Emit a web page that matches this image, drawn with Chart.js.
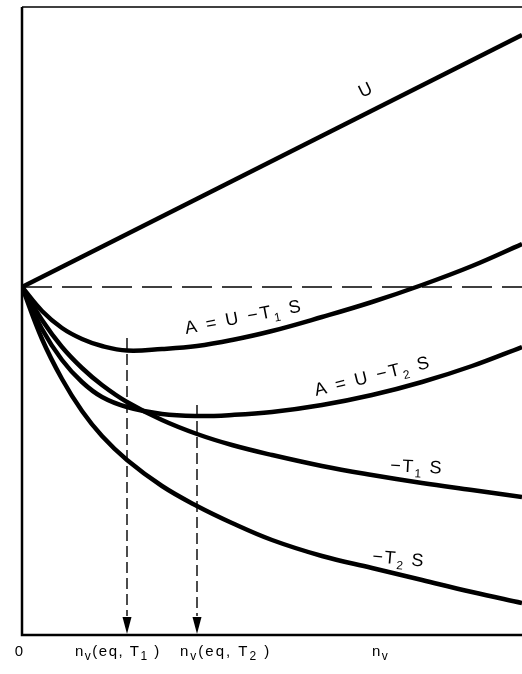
<!DOCTYPE html>
<html>
<head>
<meta charset="utf-8">
<script src="https://cdn.jsdelivr.net/npm/chart.js@4/dist/chart.umd.min.js"></script>
<style>
  html,body{margin:0;padding:0;background:#fff;}
  canvas{display:block;}
</style>
</head>
<body>
<canvas id="chart" width="522" height="674"></canvas>
<script>
// vacancy count n_v (arbitrary units) and energy terms
const xs       = [0, 0.4, 0.8, 1.2, 1.6, 2.1, 2.8, 3.5, 4.2, 5, 6, 7, 8, 9, 10];
const minusT1S = [0, -3.3, -6.0, -8.1, -9.8, -11.5, -13.3, -14.7, -15.8, -16.8, -17.9, -18.8, -19.6, -20.3, -21.0];
const minusT2S = [0, -5.2, -9.2, -12.4, -14.9, -17.3, -19.9, -21.9, -23.6, -25.3, -26.9, -28.1, -29.3, -30.5, -31.6];
const freeT1   = [0, -2.4, -4.1, -5.2, -5.9, -6.35, -6.2, -5.9, -5.3, -4.4, -3.0, -1.5, 0.2, 2.1, 4.3];
const freeT2   = [0, -4.2, -7.3, -9.5, -11.0, -12.0, -12.7, -12.9, -12.8, -12.5, -11.8, -10.8, -9.5, -7.9, -6.0];
const uX = [0, 10];
const uY = [0, 25.2];
// equilibrium points (minima of A) and where their drop lines start
const eqX   = [2.1, 3.5];
const eqTop = [-5.1, -11.8];
const yMin = -34.8, yMax = 28;

const pts = (xa, ya) => xa.map((v, i) => ({x: v, y: ya[i]}));

const curve = (d) => ({data: d, borderColor: '#000', borderWidth: 4.5, pointRadius: 0,
  tension: 0.4, fill: false});

const dashedDrops = eqX.map((v, i) => ({
  data: [{x: v, y: eqTop[i]}, {x: v, y: yMin + 1.9}],
  borderColor: '#000', borderWidth: 1.4, borderDash: [11, 5], pointRadius: 0
}));

// text with subscripts: parts = [[text, isSub], ...]
function rich(ctx, px, py, deg, parts, size, subSize, spacing){
  ctx.save();
  ctx.translate(px, py);
  ctx.rotate(deg * Math.PI / 180);
  let cx = 0;
  parts.forEach(([t, sub]) => {
    ctx.font = (sub ? subSize : size) + 'px "Liberation Sans", Arial, sans-serif';
    ctx.letterSpacing = spacing + 'px';
    ctx.fillText(t, cx, sub ? Math.round(size * 0.25) : 0);
    cx += ctx.measureText(t).width;
  });
  ctx.restore();
}

const annot = {
  id: 'annot',
  afterDatasetsDraw(chart){
    const {ctx, chartArea: a, scales: {x, y}} = chart;
    ctx.save();
    ctx.strokeStyle = '#000';
    ctx.fillStyle = '#000';
    // frame: thin top edge, heavier axes
    ctx.lineWidth = 1.5;
    ctx.beginPath(); ctx.moveTo(a.left, a.top); ctx.lineTo(a.right, a.top); ctx.stroke();
    ctx.lineWidth = 2.5;
    ctx.beginPath(); ctx.moveTo(a.left, a.top); ctx.lineTo(a.left, a.bottom); ctx.lineTo(a.right, a.bottom); ctx.stroke();
    // arrowheads on the drop lines
    eqX.forEach(v => {
      const px = x.getPixelForValue(v), tip = y.getPixelForValue(yMin);
      ctx.beginPath();
      ctx.moveTo(px - 4.5, tip - 18); ctx.lineTo(px + 4.5, tip - 18); ctx.lineTo(px, tip - 1);
      ctx.closePath(); ctx.fill();
    });
    // curve labels
    const P = (vx, vy) => [x.getPixelForValue(vx), y.getPixelForValue(vy)];
    let [lx, ly] = P(6.8, 18.9);
    rich(ctx, lx, ly, -26, [['U', 0]], 18, 12, 0);
    [lx, ly] = P(3.28, -4.7);
    rich(ctx, lx, ly, -11, [['A = U \u2212T', 0], ['1', 1], [' S', 0]], 18, 12, 2.2);
    [lx, ly] = P(5.88, -10.9);
    rich(ctx, lx, ly, -14, [['A = U \u2212T', 0], ['2', 1], [' S', 0]], 18, 12, 2.2);
    [lx, ly] = P(7.36, -18.4);
    rich(ctx, lx, ly, 3, [['\u2212T', 0], ['1', 1], [' S', 0]], 18, 12, 1.5);
    [lx, ly] = P(7.0, -27.5);
    rich(ctx, lx, ly, 5, [['\u2212T', 0], ['2', 1], [' S', 0]], 18, 12, 1.5);
    // axis labels under the n_v axis
    const base = a.bottom + 21;
    ctx.font = '15px "Liberation Sans", Arial, sans-serif';
    ctx.textAlign = 'center';
    ctx.fillText('0', x.getPixelForValue(0) - 3, base);
    ctx.textAlign = 'left';
    rich(ctx, x.getPixelForValue(1.06), base, 0, [['n', 0], ['v', 1], ['(eq, T', 0], ['1', 1], [' )', 0]], 15, 12, 1.5);
    rich(ctx, x.getPixelForValue(3.16), base, 0, [['n', 0], ['v', 1], ['(eq, T', 0], ['2', 1], [' )', 0]], 15, 12, 2);
    rich(ctx, x.getPixelForValue(7.0), base, 0, [['n', 0], ['v', 1]], 15, 12, 1.5);
    ctx.restore();
  }
};

new Chart(document.getElementById('chart'), {
  type: 'line',
  data: {
    datasets: [
      {data: [{x: 0, y: 0}, {x: 10, y: 0}], borderColor: '#000', borderWidth: 1.6,
       borderDash: [30, 10], pointRadius: 0},
      ...dashedDrops,
      curve(pts(uX, uY)),
      curve(pts(xs, freeT1)),
      curve(pts(xs, freeT2)),
      curve(pts(xs, minusT1S)),
      curve(pts(xs, minusT2S))
    ]
  },
  options: {
    responsive: false,
    animation: false,
    layout: {padding: {left: 22, right: 0, top: 7, bottom: 39}},
    plugins: {legend: {display: false}, tooltip: {enabled: false}},
    scales: {
      x: {type: 'linear', min: 0, max: 10, display: false},
      y: {min: yMin, max: yMax, display: false}
    }
  },
  plugins: [annot]
});
</script>
</body>
</html>
